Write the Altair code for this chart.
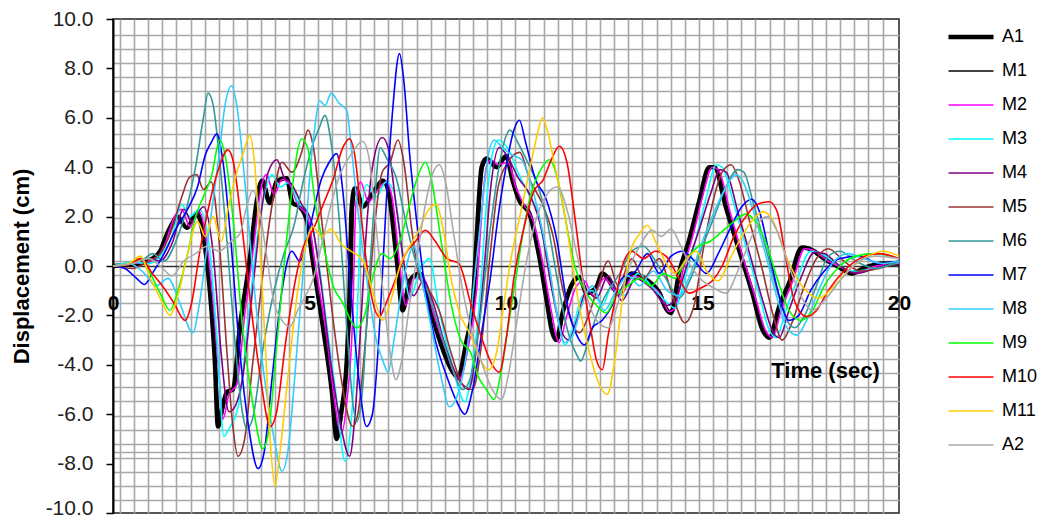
import altair as alt
import pandas as pd

# ---------------- data (time in sec, displacement in cm) ----------------
A1 = [(0,0),(0.4,0.05),(0.8,0.15),(1.0,0.3),(1.2,0.6),(1.35,1.2),(1.52,1.75),(1.63,2.0),(1.88,1.55),(2.13,2.15),(2.29,1.3),(2.47,-1.1),(2.59,-3.8),(2.67,-6.5),(2.8,-5.6),(2.9,-5.1),(3.05,-5.0),(3.23,-2.45),(3.48,0.25),(3.66,2.65),(3.79,3.45),(3.99,2.55),(4.17,3.45),(4.42,3.55),(4.57,2.55),(4.75,2.4),(4.93,1.85),(5.08,0.25),(5.34,-2.45),(5.57,-5.1),(5.69,-7.0),(5.8,-6.0),(5.95,-3.8),(6.02,-1.1),(6.07,2.25),(6.15,3.15),(6.35,2.4),(6.61,2.95),(6.86,3.45),(6.99,3.15),(7.22,0.25),(7.37,-1.8),(7.55,-0.6),(7.8,-0.3),(8.06,-1.65),(8.31,-3.0),(8.65,-4.3),(8.77,-4.5),(9.0,-3.0),(9.15,-1.65),(9.25,1.05),(9.38,4.0),(9.5,4.35),(9.76,4.0),(10.0,4.45),(10.17,3.45),(10.34,2.65),(10.6,2.1),(10.85,0.35),(11.03,-1.35),(11.18,-2.7),(11.28,-3.0),(11.44,-1.9),(11.69,-0.7),(11.87,-0.45),(12.05,-1.1),(12.3,-0.85),(12.45,-0.3),(12.88,-1.1),(13.2,-0.3),(13.57,-0.55),(13.9,-1.1),(14.08,-1.75),(14.2,-1.9),(14.4,-0.3),(14.66,1.05),(14.92,2.65),(15.17,4.0),(15.3,4.0),(15.6,2.35),(15.93,0.65),(16.27,-1.1),(16.52,-2.55),(16.7,-2.9),(16.95,-1.65),(17.2,-0.7),(17.53,0.75),(17.71,0.7),(18.14,0.25),(18.48,-0.05),(18.8,-0.3),(19.16,-0.05),(19.6,0.1),(20,0.1)]
M1 = [(0,0),(0.5,0.1),(0.9,0.2),(1.2,0.6),(1.5,1.7),(1.65,2.0),(1.9,1.5),(2.15,2.1),(2.3,1.2),(2.5,-1.3),(2.62,-4.0),(2.72,-6.3),(2.9,-5.2),(3.1,-4.9),(3.28,-2.2),(3.52,0.4),(3.7,2.8),(3.83,3.5),(4.02,2.6),(4.2,3.4),(4.45,3.5),(4.6,2.5),(4.8,2.3),(4.98,1.7),(5.12,0.1),(5.4,-2.7),(5.62,-5.3),(5.73,-6.9),(5.85,-5.8),(6.0,-3.0),(6.08,-0.5),(6.12,2.4),(6.2,3.2),(6.4,2.4),(6.65,3.0),(6.9,3.4),(7.03,3.0),(7.26,0.1),(7.4,-1.7),(7.58,-0.6),(7.85,-0.4),(8.1,-1.7),(8.35,-3.1),(8.7,-4.4),(8.82,-4.5),(9.05,-2.9),(9.2,-1.4),(9.3,1.3),(9.42,4.0),(9.55,4.3),(9.8,4.0),(10.03,4.4),(10.2,3.4),(10.38,2.6),(10.65,2.0),(10.9,0.2),(11.08,-1.5),(11.22,-2.8),(11.32,-3.0),(11.48,-1.8),(11.72,-0.7),(11.9,-0.5),(12.1,-1.1),(12.35,-0.8),(12.5,-0.3),(12.92,-1.1),(13.25,-0.3),(13.6,-0.6),(13.95,-1.1),(14.12,-1.8),(14.25,-1.85),(14.45,-0.2),(14.7,1.2),(14.96,2.8),(15.2,4.0),(15.35,3.95),(15.65,2.3),(15.98,0.55),(16.32,-1.2),(16.56,-2.6),(16.74,-2.9),(17.0,-1.6),(17.25,-0.6),(17.58,0.75),(17.76,0.7),(18.2,0.2),(18.5,-0.05),(18.85,-0.3),(19.2,-0.05),(20,0.1)]
M2 = [(0,0),(0.5,0.1),(1.0,0.2),(1.3,0.8),(1.6,2.1),(1.75,2.3),(1.95,1.6),(2.2,2.2),(2.38,1.0),(2.55,-1.5),(2.7,-4.5),(2.8,-6.2),(2.95,-5.2),(3.15,-4.8),(3.35,-2.0),(3.58,0.8),(3.75,3.0),(3.9,3.7),(4.1,2.9),(4.3,3.5),(4.5,3.3),(4.7,2.5),(4.95,2.0),(5.15,0.0),(5.45,-3.0),(5.65,-5.6),(5.8,-6.8),(5.95,-5.5),(6.1,-2.0),(6.18,2.5),(6.3,3.4),(6.5,2.6),(6.75,3.1),(6.95,3.4),(7.1,2.8),(7.3,0.0),(7.45,-1.6),(7.65,-0.5),(7.9,-0.5),(8.15,-1.9),(8.45,-3.3),(8.8,-4.6),(9.05,-3.2),(9.25,-1.0),(9.4,2.5),(9.5,4.0),(9.62,4.3),(9.8,4.1),(10.05,4.2),(10.25,3.2),(10.45,2.5),(10.7,1.8),(10.95,0.0),(11.15,-1.8),(11.35,-3.1),(11.55,-2.0),(11.8,-0.8),(12.0,-0.6),(12.2,-1.2),(12.5,-0.5),(12.9,-1.2),(13.25,-0.4),(13.6,-0.7),(13.95,-1.2),(14.15,-1.85),(14.3,-1.7),(14.5,-0.2),(14.75,1.2),(15.0,2.8),(15.25,4.0),(15.4,3.9),(15.7,2.2),(16.0,0.5),(16.35,-1.3),(16.6,-2.6),(16.78,-2.9),(17.0,-1.8),(17.3,-0.6),(17.6,0.7),(17.8,0.65),(18.2,0.2),(18.6,-0.1),(18.9,-0.3),(19.3,-0.05),(20,0.1)]
M3 = [(0,0),(0.5,0.15),(0.9,0.1),(1.2,0.4),(1.5,1.2),(1.75,2.5),(1.95,2.0),(2.2,2.3),(2.45,0.8),(2.65,-3.0),(2.82,-6.9),(2.95,-6.6),(3.2,-5.6),(3.45,-2.0),(3.7,1.5),(3.9,3.2),(4.05,3.7),(4.25,3.2),(4.5,3.4),(4.7,2.6),(4.95,2.2),(5.2,0.5),(5.45,-2.5),(5.7,-5.5),(5.9,-7.9),(6.05,-6.5),(6.2,-2.5),(6.3,1.5),(6.45,3.3),(6.7,2.8),(6.95,3.4),(7.15,3.0),(7.4,0.0),(7.55,-1.3),(7.8,-0.2),(8.05,0.3),(8.3,-1.8),(8.6,-3.8),(8.95,-5.5),(9.15,-4.0),(9.35,-1.0),(9.5,2.5),(9.65,4.5),(9.8,5.1),(10.1,4.6),(10.3,3.8),(10.55,3.0),(10.8,2.2),(11.05,0.2),(11.3,-1.9),(11.5,-3.2),(11.7,-2.5),(11.95,-1.2),(12.2,-1.0),(12.45,-1.6),(12.7,-0.8),(13.0,-1.2),(13.35,-0.3),(13.7,-0.8),(14.05,-1.4),(14.3,-1.7),(14.55,-0.5),(14.85,1.2),(15.1,2.8),(15.35,4.1),(15.5,4.0),(15.8,2.5),(16.1,0.8),(16.45,-1.2),(16.7,-2.6),(16.88,-2.9),(17.1,-1.9),(17.4,-0.6),(17.75,0.6),(17.95,0.55),(18.4,0.1),(18.8,-0.2),(19.2,-0.15),(20,0.15)]
M4 = [(0,0),(0.5,0.1),(0.9,0.3),(1.2,0.2),(1.5,0.9),(1.8,2.3),(2.0,1.8),(2.3,2.4),(2.55,0.5),(2.75,-3.5),(2.95,-5.9),(3.1,-5.7),(3.3,-4.5),(3.55,-1.0),(3.8,2.5),(3.95,3.8),(4.17,4.3),(4.35,3.6),(4.55,3.3),(4.8,2.5),(5.05,1.8),(5.3,-0.8),(5.55,-4.0),(5.8,-6.5),(6.02,-7.7),(6.15,-6.2),(6.3,-2.5),(6.45,1.5),(6.6,4.0),(6.85,5.2),(7.0,4.8),(7.2,2.5),(7.45,-0.3),(7.65,-1.2),(7.9,-0.6),(8.15,-1.5),(8.45,-3.2),(8.8,-4.6),(9.05,-5.0),(9.25,-3.3),(9.45,0.0),(9.6,3.0),(9.83,4.8),(10.05,4.4),(10.3,3.6),(10.6,2.9),(10.9,1.5),(11.15,-0.8),(11.4,-2.6),(11.6,-3.0),(11.8,-2.2),(12.05,-1.0),(12.3,-1.3),(12.6,-0.4),(12.95,-1.4),(13.3,-0.5),(13.7,-0.9),(14.1,-1.6),(14.35,-1.2),(14.6,0.0),(14.9,1.4),(15.2,2.9),(15.45,3.9),(15.6,3.8),(15.9,2.2),(16.2,0.5),(16.55,-1.5),(16.8,-2.7),(16.95,-2.9),(17.2,-1.8),(17.5,-0.5),(17.85,0.55),(18.1,0.5),(18.5,0.0),(18.9,-0.3),(19.4,-0.1),(20,0.2)]
M5 = [(0,0),(0.5,-0.1),(0.9,0.2),(1.2,0.5),(1.5,1.5),(1.75,2.8),(1.95,3.6),(2.13,3.7),(2.3,3.1),(2.5,3.4),(2.7,1.0),(2.9,-3.5),(3.05,-6.5),(3.18,-7.7),(3.35,-7.0),(3.55,-4.0),(3.8,-0.5),(4.05,2.5),(4.3,4.2),(4.55,3.8),(4.8,4.6),(4.96,5.5),(5.1,4.8),(5.3,2.0),(5.55,-1.5),(5.8,-4.5),(6.1,-6.5),(6.25,-5.8),(6.45,-2.5),(6.65,1.5),(6.85,3.8),(7.05,4.2),(7.25,5.1),(7.4,4.2),(7.6,1.5),(7.8,-0.5),(8.05,-1.0),(8.3,-1.8),(8.6,-3.5),(8.9,-4.8),(9.15,-5.0),(9.35,-3.5),(9.6,0.5),(9.8,3.2),(10.05,4.2),(10.35,4.6),(10.6,3.5),(10.9,2.6),(11.2,1.2),(11.45,-1.0),(11.7,-2.4),(11.87,-2.7),(12.1,-2.0),(12.35,-0.8),(12.6,0.2),(12.85,-0.8),(13.2,0.3),(13.5,-0.5),(13.9,0.3),(14.2,-1.0),(14.55,-2.3),(14.8,-1.5),(15.0,0.5),(15.25,2.5),(15.5,3.8),(15.73,4.1),(15.9,3.6),(16.2,1.8),(16.5,0.0),(16.8,-2.0),(17.03,-3.0),(17.25,-2.4),(17.55,-1.0),(17.9,0.3),(18.2,0.7),(18.6,0.2),(19.0,-0.2),(19.5,-0.1),(20,0.2)]
M6 = [(0,0),(0.5,0.1),(0.8,0.3),(1.0,0.5),(1.3,0.2),(1.6,1.0),(1.9,2.5),(2.1,4.0),(2.3,6.0),(2.42,7.0),(2.55,6.5),(2.7,4.5),(2.9,1.0),(3.1,-3.0),(3.3,-6.0),(3.4,-6.6),(3.55,-6.2),(3.8,-3.5),(4.1,-1.0),(4.35,0.5),(4.6,1.6),(4.85,3.5),(5.1,5.0),(5.25,5.6),(5.39,6.1),(5.55,5.0),(5.75,2.0),(5.95,-2.5),(6.1,-5.5),(6.2,-6.3),(6.35,-5.0),(6.5,-1.0),(6.65,2.5),(6.8,4.8),(6.95,4.4),(7.2,3.6),(7.45,1.8),(7.7,0.2),(8.0,-1.0),(8.3,-2.5),(8.6,-4.0),(8.9,-5.0),(9.1,-4.5),(9.35,-2.0),(9.6,1.5),(9.8,3.8),(9.95,5.0),(10.1,5.5),(10.3,5.0),(10.55,4.2),(10.8,3.3),(11.05,1.8),(11.3,-0.5),(11.55,-2.5),(11.8,-3.6),(11.9,-3.85),(12.1,-3.0),(12.35,-1.8),(12.6,-1.0),(12.9,-0.3),(13.2,0.6),(13.5,0.8),(13.8,0.2),(14.1,-0.6),(14.4,-1.3),(14.7,-0.5),(15.0,0.8),(15.3,2.0),(15.6,3.2),(15.9,3.9),(16.05,3.8),(16.3,2.5),(16.6,0.8),(16.9,-1.0),(17.15,-2.2),(17.35,-2.5),(17.6,-2.0),(17.9,-0.8),(18.2,0.4),(18.5,0.6),(18.9,0.2),(19.4,-0.1),(20,0.2)]
M7 = [(0,0),(0.3,-0.1),(0.6,-0.5),(0.8,-0.75),(1.0,-0.3),(1.3,0.5),(1.6,1.5),(1.9,2.3),(2.15,3.2),(2.35,4.5),(2.5,5.0),(2.64,5.35),(2.8,4.2),(3.0,1.0),(3.2,-3.0),(3.45,-6.5),(3.69,-8.2),(3.85,-7.5),(4.05,-4.5),(4.3,-1.0),(4.55,0.6),(4.75,0.2),(5.0,1.5),(5.3,3.5),(5.5,4.2),(5.69,4.55),(5.85,3.0),(6.05,-1.0),(6.25,-4.5),(6.45,-6.5),(6.6,-6.0),(6.8,-2.0),(6.95,2.5),(7.1,6.0),(7.29,8.6),(7.4,7.5),(7.55,4.5),(7.75,1.5),(7.95,-1.0),(8.2,-3.0),(8.5,-4.5),(8.75,-5.5),(8.95,-6.0),(9.15,-5.0),(9.4,-2.5),(9.6,-0.5),(9.8,2.0),(10.0,4.0),(10.2,5.5),(10.34,5.9),(10.5,5.0),(10.75,3.5),(11.0,2.8),(11.3,1.0),(11.55,-1.5),(11.8,-2.8),(12.0,-3.2),(12.2,-2.5),(12.45,-2.2),(12.7,-1.6),(12.95,-0.5),(13.3,-0.2),(13.6,0.5),(13.9,-0.3),(14.2,0.4),(14.5,0.6),(14.8,0.2),(15.1,-0.3),(15.4,0.5),(15.7,1.5),(16.0,2.4),(16.25,2.7),(16.45,2.2),(16.7,0.5),(16.95,-1.2),(17.2,-2.2),(17.45,-2.0),(17.75,-1.0),(18.1,-0.2),(18.5,0.3),(19.0,0.4),(19.5,0.1),(20,0.2)]
M8 = [(0,0),(0.4,0.1),(0.8,-0.3),(1.1,-0.8),(1.4,-0.5),(1.7,-1.5),(2.03,-2.7),(2.2,-1.5),(2.45,1.5),(2.7,4.5),(2.85,6.5),(3.02,7.3),(3.15,6.5),(3.35,3.5),(3.6,-1.0),(3.85,-4.5),(4.1,-7.0),(4.3,-8.3),(4.45,-7.5),(4.65,-4.0),(4.85,0.0),(5.0,3.5),(5.15,5.8),(5.25,6.7),(5.4,6.5),(5.55,7.0),(5.75,6.6),(5.95,6.3),(6.05,5.0),(6.25,2.0),(6.5,-1.0),(6.7,-3.0),(6.86,-3.8),(7.0,-4.3),(7.15,-3.0),(7.4,-0.5),(7.65,0.8),(7.85,-0.5),(8.1,-2.5),(8.35,-4.5),(8.56,-5.7),(8.75,-5.3),(9.0,-3.5),(9.2,-0.5),(9.4,2.5),(9.55,4.5),(9.7,5.1),(9.9,4.8),(10.15,4.5),(10.4,4.3),(10.6,3.5),(10.85,2.0),(11.1,0.0),(11.3,-2.0),(11.5,-3.1),(11.7,-2.8),(11.95,-1.5),(12.2,-0.8),(12.5,-1.8),(12.8,-1.0),(13.1,-0.4),(13.4,-0.8),(13.75,-0.2),(14.1,-1.0),(14.4,-1.2),(14.7,-0.3),(15.0,1.0),(15.3,2.2),(15.6,3.2),(15.85,3.7),(16.0,3.5),(16.3,2.2),(16.6,0.5),(16.9,-1.3),(17.15,-2.5),(17.4,-2.8),(17.65,-2.2),(17.95,-1.0),(18.3,0.1),(18.7,0.5),(19.1,0.3),(19.6,0.1),(20,0.2)]
M9 = [(0,0),(0.4,0.1),(0.7,0.3),(0.95,-0.3),(1.2,-1.1),(1.45,-1.8),(1.65,-1.0),(1.9,0.5),(2.1,2.0),(2.3,2.8),(2.5,3.6),(2.72,5.1),(2.85,4.5),(3.05,2.0),(3.3,-2.5),(3.55,-5.5),(3.81,-7.4),(3.95,-6.8),(4.15,-3.5),(4.35,0.0),(4.55,3.0),(4.7,4.7),(4.8,5.15),(4.95,4.8),(5.15,2.5),(5.4,0.5),(5.6,-0.8),(5.85,-1.5),(6.05,-2.2),(6.2,-2.5),(6.4,-2.0),(6.6,-0.5),(6.85,0.5),(7.05,0.3),(7.3,1.0),(7.55,2.5),(7.75,3.6),(7.95,4.2),(8.1,3.5),(8.35,1.0),(8.6,-1.5),(8.85,-3.0),(9.1,-3.5),(9.3,-4.5),(9.5,-5.0),(9.7,-5.4),(9.85,-4.5),(10.05,-2.5),(10.25,-0.5),(10.45,1.5),(10.65,3.0),(10.85,3.8),(11.1,4.3),(11.3,3.6),(11.5,2.0),(11.75,0.0),(12.0,-1.0),(12.25,-1.5),(12.55,-1.9),(12.8,-1.2),(13.1,-0.8),(13.4,-0.5),(13.7,-0.8),(14.0,-0.3),(14.3,-0.5),(14.6,0.3),(14.9,0.8),(15.2,1.0),(15.5,1.4),(15.8,1.8),(16.1,2.1),(16.3,1.9),(16.6,1.0),(16.9,-0.5),(17.2,-1.8),(17.5,-2.2),(17.8,-1.8),(18.1,-0.8),(18.5,0.0),(18.9,0.4),(19.4,0.5),(20,0.3)]
M10 = [(0,0),(0.4,0.05),(0.7,0.3),(1.0,-0.3),(1.3,-0.9),(1.55,-1.5),(1.83,-2.2),(2.0,-1.5),(2.2,0.5),(2.45,2.5),(2.7,4.0),(2.92,4.7),(3.05,4.3),(3.25,2.0),(3.5,-1.5),(3.75,-4.5),(4.0,-6.5),(4.15,-6.0),(4.4,-3.0),(4.65,-0.5),(4.85,0.8),(5.1,1.5),(5.35,2.5),(5.6,3.5),(5.85,4.8),(6.02,5.15),(6.15,4.5),(6.35,1.5),(6.55,-1.0),(6.78,-2.05),(6.95,-1.5),(7.2,-0.5),(7.45,0.5),(7.7,1.0),(7.95,1.45),(8.2,1.0),(8.5,0.3),(8.8,0.1),(9.1,-1.5),(9.4,-3.0),(9.65,-4.0),(9.83,-4.3),(10.0,-3.0),(10.2,-0.5),(10.45,1.5),(10.7,3.0),(10.95,3.5),(11.15,4.3),(11.36,4.85),(11.55,4.2),(11.75,2.0),(11.95,-0.5),(12.15,-2.5),(12.3,-3.8),(12.45,-4.2),(12.6,-2.8),(12.8,-1.2),(12.96,0.0),(13.2,0.6),(13.5,0.3),(13.8,0.6),(14.1,0.35),(14.4,-0.5),(14.66,-1.1),(14.95,-0.9),(15.25,-0.6),(15.5,0.0),(15.8,1.2),(16.1,2.0),(16.4,2.5),(16.7,2.6),(16.9,2.2),(17.1,0.5),(17.3,-1.2),(17.5,-1.9),(17.65,-2.05),(17.9,-1.8),(18.2,-1.0),(18.6,-0.2),(19.0,0.3),(19.5,0.5),(20,0.3)]
M11 = [(0,0),(0.4,0.1),(0.7,0.4),(0.95,-0.5),(1.2,-1.3),(1.45,-2.0),(1.65,-1.2),(1.9,0.5),(2.15,1.8),(2.35,1.2),(2.55,2.0),(2.75,1.0),(2.95,2.5),(3.15,3.8),(3.3,4.5),(3.48,5.3),(3.6,4.2),(3.75,0.5),(3.9,-4.0),(4.02,-7.5),(4.12,-8.9),(4.25,-7.5),(4.45,-4.5),(4.7,-1.0),(4.9,0.8),(5.08,1.6),(5.3,1.2),(5.55,1.5),(5.8,0.9),(6.05,0.6),(6.35,0.25),(6.6,-1.0),(6.86,-2.2),(7.05,-1.5),(7.3,0.0),(7.55,0.8),(7.8,1.5),(8.0,2.2),(8.23,2.5),(8.4,1.5),(8.6,-0.5),(8.82,-1.9),(9.1,-2.8),(9.35,-3.8),(9.55,-4.2),(9.76,-3.5),(9.95,-1.5),(10.15,0.5),(10.35,2.0),(10.55,3.5),(10.75,5.0),(10.93,6.0),(11.05,5.5),(11.25,4.0),(11.45,2.5),(11.65,0.5),(11.85,-1.5),(12.05,-3.0),(12.3,-4.5),(12.58,-5.2),(12.75,-4.0),(12.95,-1.5),(13.15,0.5),(13.4,1.3),(13.6,1.65),(13.8,1.0),(14.05,0.2),(14.3,-0.3),(14.6,0.3),(14.84,0.6),(15.1,-0.2),(15.4,-0.6),(15.7,0.3),(16.0,1.2),(16.3,1.9),(16.55,2.2),(16.8,1.8),(17.1,0.5),(17.4,-0.5),(17.7,-1.1),(17.95,-1.3),(18.3,-0.9),(18.7,-0.2),(19.1,0.3),(19.6,0.6),(20,0.4)]
A2 = [(0,0),(0.5,0.1),(0.9,0.3),(1.2,0.0),(1.5,-0.4),(1.8,0.2),(2.1,0.5),(2.4,0.8),(2.7,0.6),(3.0,1.0),(3.23,1.3),(3.4,2.4),(3.56,3.05),(3.7,2.5),(3.9,0.5),(4.1,-1.5),(4.3,-2.2),(4.5,-2.45),(4.7,-1.8),(4.9,-1.2),(5.1,-0.5),(5.3,0.8),(5.55,2.5),(5.8,3.8),(6.05,4.5),(6.35,5.05),(6.5,4.5),(6.7,1.5),(6.9,-1.5),(7.05,-3.5),(7.2,-4.6),(7.35,-3.8),(7.55,-1.5),(7.75,0.5),(7.95,2.5),(8.15,3.8),(8.3,4.1),(8.45,3.5),(8.65,1.5),(8.9,-1.0),(9.15,-2.8),(9.4,-4.0),(9.65,-5.0),(9.88,-5.4),(10.05,-4.5),(10.25,-2.5),(10.5,0.0),(10.75,1.8),(11.0,2.8),(11.3,3.2),(11.55,2.3),(11.8,0.5),(12.05,-1.2),(12.3,-2.2),(12.6,-2.5),(12.85,-1.5),(13.1,-0.2),(13.4,0.8),(13.72,1.45),(13.95,1.2),(14.2,1.5),(14.45,0.8),(14.7,0.0),(15.0,-0.6),(15.3,-0.9),(15.6,-1.1),(15.9,-0.2),(16.2,1.0),(16.45,1.8),(16.65,2.0),(16.9,1.4),(17.2,0.0),(17.5,-1.2),(17.8,-1.8),(18.1,-1.4),(18.5,-0.6),(18.9,0.1),(19.4,0.4),(20,0.3)]

SERIES = ["A1", "M1", "M2", "M3", "M4", "M5", "M6", "M7", "M8", "M9", "M10", "M11", "A2"]
COLORS = ["#000000", "#000000", "#FF00FF", "#00FFFF", "#800080", "#993333", "#339999",
          "#0000FF", "#33CCFF", "#00FF00", "#FF0000", "#FFCC00", "#ABABAB"]
WIDTHS = [4.5, 1.5, 1.6, 1.6, 1.6, 1.6, 1.6, 1.6, 1.6, 1.6, 1.6, 1.6, 1.6]
ALL = [A1, M1, M2, M3, M4, M5, M6, M7, M8, M9, M10, M11, A2]

X_LABELS = [0, 5, 10, 15, 20]
Y_TICKS = [-10, -8, -6, -4, -2, 0, 2, 4, 6, 8, 10]
GRID_X = [round(0.178 + 0.3593 * k, 4) for k in range(55)]
GRID_Y = [round(9.35 - 0.5705 * k, 4) for k in range(34)] + [-7.52]

rows = []
for name, pts in zip(SERIES, ALL):
    for t, v in pts:
        rows.append({"series": name, "t": t, "v": v})
df = pd.DataFrame(rows)

FONT = "Liberation Sans"
XS = alt.Scale(domain=[0, 20], nice=False, zero=False)
YS = alt.Scale(domain=[-10, 10], nice=False, zero=False)

grid = alt.Chart(pd.DataFrame({"t": [0.0], "v": [0.0]})).mark_point(opacity=0).encode(
    x=alt.X("t:Q", scale=XS, axis=alt.Axis(values=GRID_X, grid=True, gridColor="#A8A8A8",
                                           gridWidth=1.6, labels=False, ticks=False,
                                           domain=False, title=None, orient="bottom")),
    y=alt.Y("v:Q", scale=YS, axis=alt.Axis(values=GRID_Y, grid=True, gridColor="#A8A8A8",
                                           gridWidth=1.6, labels=False, ticks=False,
                                           domain=False, title=None, orient="left")),
)

legend = alt.Legend(title=None, orient="none", legendX=833, legendY=1, padding=0,
                    symbolType="stroke", symbolSize=2025, clipHeight=34, rowPadding=0,
                    labelFont=FONT, labelFontSize=18, labelColor="#000", labelOffset=6,
                    labelLimit=100)

lines = alt.Chart(df).mark_line(strokeJoin="round", interpolate="monotone").encode(
    x=alt.X("t:Q", scale=XS, axis=alt.Axis(
        values=X_LABELS, orient="bottom", offset=-247, grid=False, ticks=False,
        domain=True, domainColor="#333333", domainWidth=1.5,
        labelFont=FONT, labelFontSize=21, labelFontWeight="bold", labelColor="#000",
        labelPadding=26, labelFlush=False, labelOverlap=False,
        title="Time (sec)", titleFont=FONT, titleFontSize=22, titleFontWeight="bold",
        titleColor="#000", titleX=712, titleY=104, titleAlign="center",
        titleBaseline="middle")),
    y=alt.Y("v:Q", scale=YS, axis=alt.Axis(
        values=Y_TICKS, orient="left", grid=False, ticks=True, tickSize=7,
        tickColor="#000", tickWidth=1.5, domain=True, domainColor="#000", domainWidth=2,
        labelFont=FONT, labelFontSize=21, labelColor="#222", labelPadding=13,
        labelFlush=False, labelOverlap=False,
        labelExpr="replace(format(datum.value, '.1f'), '\u2212', '-')",
        labelOffset={"condition": {"test": "datum.value < -9.9", "value": -5}, "value": 0},
        title="Displacement (cm)", titleFont=FONT, titleFontSize=22,
        titleFontWeight="bold", titleColor="#000", titleX=-92, titleY=247,
        titleAngle=270, titleAlign="center", titleBaseline="middle")),
    color=alt.Color("series:N", scale=alt.Scale(domain=SERIES, range=COLORS), legend=legend),
    strokeWidth=alt.StrokeWidth("series:N",
                                scale=alt.Scale(type="ordinal", domain=SERIES, range=WIDTHS),
                                legend=legend),
)

chart = alt.layer(grid, lines).resolve_axis(x="independent", y="independent").properties(
    width=786, height=494,
    padding={"left": 105, "top": 11, "right": 138, "bottom": 5},
    autosize=alt.AutoSizeParams(type="none"),
    background="white",
).configure_view(stroke="#222222", strokeWidth=1.5)

chart.save("out.html", embed_options={"renderer": "svg", "actions": False})
